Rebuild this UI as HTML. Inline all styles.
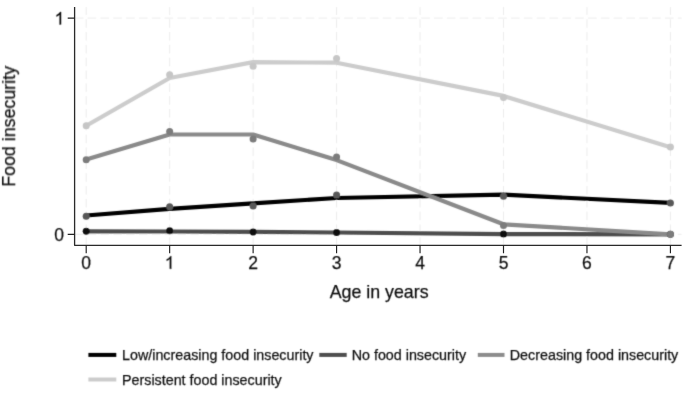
<!DOCTYPE html>
<html><head><meta charset="utf-8">
<style>
html,body{margin:0;padding:0;background:#fff;}
svg{display:block;}
text{font-family:"Liberation Sans",sans-serif;fill:#111;stroke:#111;stroke-width:0.25px;}
.g1{fill:#111;stroke:#111;stroke-width:30;}
</style></head>
<body>
<svg width="685" height="395" viewBox="0 0 685 395">
<defs><filter id="sm" x="0" y="0" width="685" height="395" filterUnits="userSpaceOnUse"><feConvolveMatrix order="3" kernelMatrix="1 6 1 6 36 6 1 6 1" divisor="64" edgeMode="duplicate"/></filter></defs>
<rect width="685" height="395" fill="#fff"/>
<g filter="url(#sm)">
<g stroke="#ececec" stroke-width="1" stroke-dasharray="8.6 4.23" fill="none">
<path d="M74.8 18.1H681.6M74.8 234.3H681.6"/>
<path d="M86.20 245.9V7.1M169.66 245.9V7.1M253.12 245.9V7.1M336.58 245.9V7.1M420.04 245.9V7.1M503.50 245.9V7.1M586.96 245.9V7.1M670.42 245.9V7.1"/>
</g>
<g fill="none" stroke-width="4.2" stroke-linejoin="round" stroke-linecap="butt">
<polyline stroke="#000" points="86.20,215.50 169.66,208.90 253.12,203.30 336.58,198.00 503.50,194.70 670.42,202.80"/>
<polyline stroke="#4e4e4e" points="86.20,231.40 169.66,231.50 253.12,231.80 336.58,232.50 503.50,234.10 670.42,234.30"/>
<polyline stroke="#8a8a8a" points="86.20,159.60 169.66,134.50 253.12,134.50 336.58,160.10 503.50,224.30 670.42,234.30"/>
<polyline stroke="#cccccc" points="86.20,125.80 169.66,78.00 253.12,62.10 336.58,62.70 503.50,95.90 670.42,147.30"/>
</g>
<g fill="#585858"><circle cx="86.20" cy="216.30" r="3.5"/><circle cx="169.66" cy="206.80" r="3.5"/><circle cx="253.12" cy="206.10" r="3.5"/><circle cx="336.58" cy="194.90" r="3.5"/><circle cx="503.50" cy="196.30" r="3.5"/><circle cx="670.42" cy="202.90" r="3.5"/></g>
<g fill="#111"><circle cx="86.20" cy="231.30" r="3.5"/><circle cx="169.66" cy="230.80" r="3.5"/><circle cx="253.12" cy="232.00" r="3.5"/><circle cx="336.58" cy="232.60" r="3.5"/><circle cx="503.50" cy="234.10" r="3.5"/><circle cx="670.42" cy="234.30" r="3.5"/></g>
<g fill="#7c7c7c"><circle cx="86.20" cy="159.70" r="3.5"/><circle cx="169.66" cy="131.50" r="3.5"/><circle cx="253.12" cy="139.10" r="3.5"/><circle cx="336.58" cy="157.00" r="3.5"/><circle cx="503.50" cy="225.40" r="3.5"/><circle cx="670.42" cy="234.30" r="3.5"/></g>
<g fill="#c6c6c6"><circle cx="86.20" cy="125.80" r="3.5"/><circle cx="169.66" cy="74.70" r="3.5"/><circle cx="253.12" cy="66.30" r="3.5"/><circle cx="336.58" cy="58.50" r="3.5"/><circle cx="503.50" cy="97.60" r="3.5"/><circle cx="670.42" cy="147.10" r="3.5"/></g>
<g font-size="17.5" text-anchor="end"><text x="63.9" y="240.6">0</text></g>
<path class="g1" transform="translate(54.57 24.5) scale(0.008545 -0.008545)" d="M763 0H583V1147Q518 1085 412.5 1023Q307 961 223 930V1104Q374 1175 487 1276Q600 1377 647 1472H763Z"/>
<g font-size="17.5" text-anchor="middle">
<text x="86.20" y="268.8">0</text>
<text x="253.12" y="268.8">2</text>
<text x="336.58" y="268.8">3</text>
<text x="420.04" y="268.8">4</text>
<text x="503.50" y="268.8">5</text>
<text x="586.96" y="268.8">6</text>
<text x="670.42" y="268.8">7</text>
</g>
<path class="g1" transform="translate(164.79 268.8) scale(0.008545 -0.008545)" d="M763 0H583V1147Q518 1085 412.5 1023Q307 961 223 930V1104Q374 1175 487 1276Q600 1377 647 1472H763Z"/>
<text x="379.15" y="298" font-size="17.8" text-anchor="middle">Age in years</text>
<text transform="translate(15 126.4) rotate(-90)" font-size="17.8" text-anchor="middle">Food insecurity</text>
<g stroke-width="4">
<path d="M88.4 354.9H116.3" stroke="#000"/>
<path d="M319.3 354.9H346.7" stroke="#4e4e4e"/>
<path d="M477.8 354.9H504.5" stroke="#8c8c8c"/>
<path d="M88.4 379.5H116.3" stroke="#cccccc"/>
</g>
<g font-size="14.3">
<text x="122" y="359.6">Low/increasing food insecurity</text>
<text x="351.7" y="359.6">No food insecurity</text>
<text x="509.8" y="359.6">Decreasing food insecurity</text>
<text x="122" y="384.8">Persistent food insecurity</text>
</g>
</g>
<path d="M74.6 7.1V245.35H681.6" stroke="#2a2a2a" stroke-width="1.3" fill="none" stroke-linejoin="round"/>
<g stroke="#222" stroke-width="1.15">
<path d="M67.7 18.1H74.6M67.7 234.4H74.6"/>
<path d="M86.20 245.3V253.2M169.66 245.3V253.2M253.12 245.3V253.2M336.58 245.3V253.2M420.04 245.3V253.2M503.50 245.3V253.2M586.96 245.3V253.2M670.42 245.3V253.2"/>
</g>
</svg>
</body></html>
